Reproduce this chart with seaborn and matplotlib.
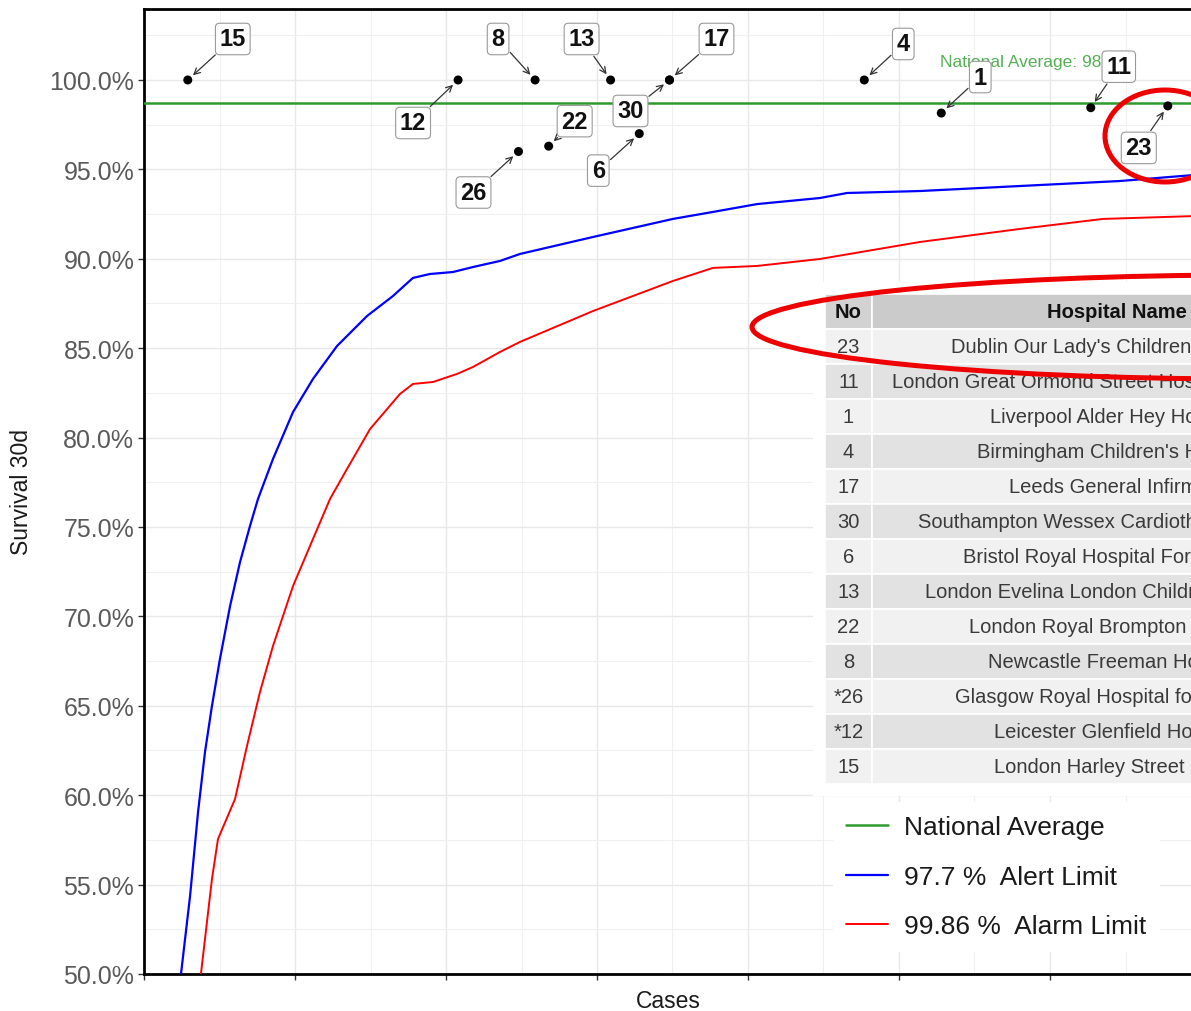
import numpy as np
import pandas as pd
import matplotlib
matplotlib.use("Agg")
import matplotlib.pyplot as plt
import seaborn as sns
from matplotlib.patches import Ellipse, Rectangle
from matplotlib.ticker import MultipleLocator, PercentFormatter, NullFormatter

# hospital results: number, cases, 30-day survival (%)
hosp_no = ["15", "12", "26", "8", "22", "13", "6", "30", "17", "4", "1", "11", "23"]
hosp_cases = [29, 208, 248, 259, 268, 309, 328, 348, 348, 477, 528, 627, 678]
hosp_surv = [100.0, 100.0, 96.0, 100.0, 96.3, 100.0, 97.0, 100.0, 100.0, 100.0, 98.15, 98.45, 98.55]

national_avg = 98.7

# funnel limits
alert_cases = [24.5, 30.5, 35.8, 40.4, 45.0, 50.3, 57.0, 63.6, 70.2, 75.5, 85.4, 98.7, 111.9,
               127.8, 147.7, 164.9, 178.1, 189.4, 204.6, 217.9, 235.8, 249.0, 297.4, 350.3,
               376.8, 406.0, 447.7, 465.6, 513.9, 580.1, 646.4, 696.0, 740.0]
alert_surv = [50.0, 54.36, 59.06, 62.42, 64.99, 67.62, 70.58, 73.04, 75.06, 76.57, 78.80, 81.43,
              83.28, 85.12, 86.80, 87.92, 88.93, 89.15, 89.26, 89.54, 89.88, 90.27, 91.22, 92.23,
              92.62, 93.06, 93.40, 93.68, 93.79, 94.07, 94.35, 94.69, 94.85]

alarm_cases = [37.7, 45.0, 49.0, 60.3, 68.2, 76.8, 85.4, 98.7, 111.9, 123.2, 134.4, 149.7, 169.5,
               178.1, 191.4, 207.3, 217.9, 235.8, 249.0, 297.4, 350.3, 376.8, 406.0, 447.7,
               513.9, 580.1, 635.1, 696.0, 740.0]
alarm_surv = [50.0, 55.31, 57.55, 59.79, 62.75, 65.77, 68.34, 71.70, 74.33, 76.57, 78.24, 80.48,
              82.44, 83.00, 83.11, 83.56, 83.95, 84.79, 85.35, 87.08, 88.76, 89.49, 89.60, 89.99,
              90.94, 91.67, 92.23, 92.39, 92.50]

# table shown on the plot
table_no = ["23", "11", "1", "4", "17", "30", "6", "13", "22", "8", "*26", "*12", "15"]
table_names = [
    "Dublin Our Lady's Children's Hospital",
    "London Great Ormond Street Hospital for Children",
    "Liverpool Alder Hey Hospital",
    "Birmingham Children's Hospital",
    "Leeds General Infirmary",
    "Southampton Wessex Cardiothoracic Centre",
    "Bristol Royal Hospital For Children",
    "London Evelina London Children's Hospital",
    "London Royal Brompton Hospital",
    "Newcastle Freeman Hospital",
    "Glasgow Royal Hospital for Children",
    "Leicester Glenfield Hospital",
    "London Harley Street Clinic",
]

# label offsets (pixels, right / up) for the repelled labels
label_offset = {
    "15": (45, 41), "12": (-45, -43), "26": (-45, -41), "8": (-37, 41),
    "22": (26, 25), "13": (-29, 41), "6": (-41, -37), "30": (-39, -31),
    "17": (47, 41), "4": (39, 36), "1": (39, 36), "11": (28, 41), "23": (-29, -42),
}

sns.set_theme(style="white")
plt.rcParams["font.family"] = ["Liberation Sans", "DejaVu Sans"]

W, H = 1191, 1012
fig = plt.figure(figsize=(W / 100, H / 100), dpi=100)
ax = fig.add_axes([144 / W, 1 - 975 / H, 1147.6 / W, 965 / H])


def fx(px):
    return px / W


def fy(py):
    return 1 - py / H


# limits and average
ax.axhline(national_avg, color="#2e9a2e", lw=1.8, label="National Average", zorder=3)
sns.lineplot(x=alert_cases, y=alert_surv, ax=ax, color="#0000ff", lw=1.6,
             label="97.7 %  Alert Limit", estimator=None, zorder=3)
sns.lineplot(x=alarm_cases, y=alarm_surv, ax=ax, color="#ff0000", lw=1.4,
             label="99.86 %  Alarm Limit", estimator=None, zorder=3)

pts = pd.DataFrame({"no": hosp_no, "cases": hosp_cases, "surv": hosp_surv})
sns.scatterplot(data=pts, x="cases", y="surv", ax=ax, color="black", s=42,
                edgecolor="none", zorder=4, legend=False)

ax.text(527, 101.05, f"National Average: {national_avg}%", color="#55b055",
        fontsize=12.5, ha="left", va="center", zorder=4)

for no, c, s in zip(hosp_no, hosp_cases, hosp_surv):
    dx, dy = label_offset[no]
    ax.annotate(no, xy=(c, s), xytext=(dx * 0.72, dy * 0.72), textcoords="offset points",
                ha="center", va="center", fontsize=17, fontweight="bold", color="#111111",
                bbox=dict(boxstyle="round,pad=0.18", fc="white", ec="#9a9a9a", lw=0.8),
                arrowprops=dict(arrowstyle="->", color="#333333", lw=0.9,
                                shrinkA=1, shrinkB=5, mutation_scale=11),
                zorder=6)

ax.set_xlim(0, 760)
ax.set_ylim(50, 103.97)
ax.xaxis.set_major_locator(MultipleLocator(100))
ax.xaxis.set_minor_locator(MultipleLocator(50))
ax.xaxis.set_major_formatter(NullFormatter())
ax.yaxis.set_major_locator(MultipleLocator(5))
ax.yaxis.set_minor_locator(MultipleLocator(2.5))
ax.yaxis.set_major_formatter(PercentFormatter(decimals=1))
ax.grid(which="major", color="#e8e8e8", lw=1.0)
ax.grid(which="minor", color="#f0f0f0", lw=0.8)
ax.set_axisbelow(True)
ax.tick_params(axis="both", which="major", length=4, width=1, color="#333333",
               labelsize=18, labelcolor="#5a5a5a", pad=3, left=True, bottom=True)
ax.tick_params(which="minor", length=0)
for sp in ax.spines.values():
    sp.set_color("black")
    sp.set_linewidth(2.0)

ax.set_xlabel("Cases", fontsize=16.5, color="#1a1a1a")
ax.set_ylabel("Survival 30d", fontsize=16.5, color="#1a1a1a")
ax.xaxis.set_label_coords((668 - 144) / 1147.6, -0.0155)
ax.yaxis.set_label_coords((33 - 144) / 1147.6, 0.5)

# legend
h, l = ax.get_legend_handles_labels()
leg = ax.legend(h, l, loc="upper left", bbox_to_anchor=(fx(833), fy(803)),
                bbox_transform=fig.transFigure, borderaxespad=0, frameon=True,
                facecolor="white", edgecolor="none", framealpha=1, fontsize=19,
                handlelength=1.6, handletextpad=0.6, labelspacing=0.97, borderpad=0.5)
leg.set_zorder(7)
for t in leg.get_texts():
    t.set_color("#1a1a1a")

# table
fig.add_artist(Rectangle((fx(813), fy(797)), fx(600), 514 / H, transform=fig.transFigure,
                         fc="white", ec="none", zorder=8))
row_h = 35
top = 295
no_l, no_r, name_r = 825, 872, 1362
name_c = (no_r + name_r) / 2
fs_tab = 14.5


def cell(x0, x1, y0, color):
    fig.add_artist(Rectangle((fx(x0), fy(y0 + row_h)), fx(x1 - x0), row_h / H,
                             transform=fig.transFigure, fc=color, ec="white",
                             lw=1.2, zorder=9))


cell(no_l, no_r, top, "#d2d2d2")
cell(no_r, name_r, top, "#cbcbcb")
fig.text(fx((no_l + no_r) / 2), fy(top + row_h / 2), "No", ha="center", va="center",
         fontsize=fs_tab, fontweight="bold", color="#111111", zorder=10)
fig.text(fx(name_c), fy(top + row_h / 2), "Hospital Name", ha="center", va="center",
         fontsize=fs_tab, fontweight="bold", color="#111111", zorder=10)
for i, (no, name) in enumerate(zip(table_no, table_names)):
    y0 = top + row_h * (i + 1)
    bg = "#f1f1f1" if i % 2 == 0 else "#e2e2e2"
    cell(no_l, no_r, y0, bg)
    cell(no_r, name_r, y0, bg)
    fig.text(fx((no_l + no_r) / 2), fy(y0 + row_h / 2), no, ha="center", va="center",
             fontsize=fs_tab, color="#3a3a3a", zorder=10)
    fig.text(fx(name_c), fy(y0 + row_h / 2), name, ha="center", va="center",
             fontsize=fs_tab, color="#3a3a3a", zorder=10)

# red highlight ellipses drawn over the figure
fig.add_artist(Ellipse((fx(1165), fy(137)), 120 / W, 92 / H, transform=fig.transFigure,
                       fill=False, ec="#ee0000", lw=3.6, zorder=12))
fig.add_artist(Ellipse((fx(1250), fy(328)), 996 / W, 104 / H, transform=fig.transFigure,
                       fill=False, ec="#ee0000", lw=3.6, zorder=12))

fig.savefig("out.png", dpi=100)
